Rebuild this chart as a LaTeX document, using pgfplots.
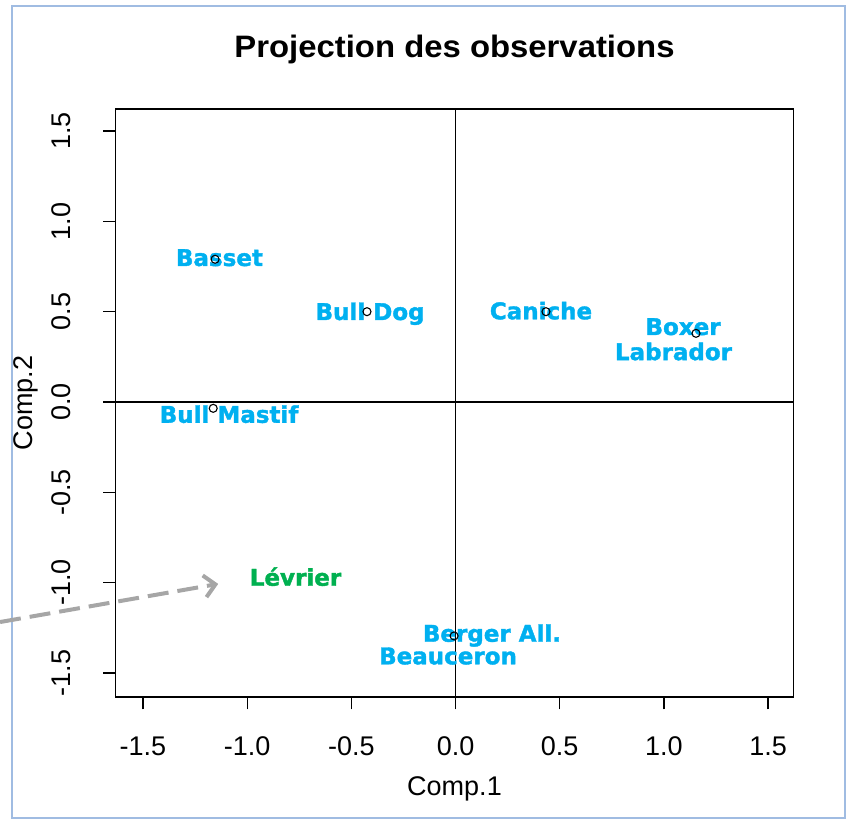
\documentclass[border=0pt]{standalone}
\usepackage{fontspec}
\setmainfont{Liberation Sans}
\newfontfamily\heavy{DejaVu Sans}[BoldFeatures={FakeBold=1.6}]
\usepackage{pgfplots}
\pgfplotsset{compat=1.18}
\usepackage{pgfplotstable}
\usetikzlibrary{arrows.meta}
\definecolor{lblblue}{RGB}{0,176,240}
\definecolor{lblgreen}{RGB}{0,176,80}
\definecolor{arrowgray}{RGB}{166,166,166}
\definecolor{frameblue}{RGB}{160,188,226}

\pgfplotstableread[col sep=comma]{
x,y,label
-1.133,0.753,Basset
-0.410,0.454,Bull Dog
-1.087,-0.115,Bull Mastif
0.410,0.458,Caniche
1.092,0.371,Boxer
1.046,0.232,Labrador
0.175,-1.327,Berger All.
-0.036,-1.452,Beauceron
}\labelsblue

\pgfplotstableread[col sep=comma]{
x,y,label
-0.768,-1.017,Lévrier
}\labelsgreen

\pgfplotstableread{
x y
-1.154 0.790
-0.425 0.500
-1.163 -0.035
0.434 0.500
1.154 0.380
-0.007 -1.295
}\points

\begin{document}
\begin{tikzpicture}
\useasboundingbox (0,0) rectangle (423pt,414.5pt);
\draw[frameblue, line width=0.9pt] (6pt,5.5pt) rectangle (422.5pt,411.5pt);
\begin{axis}[
  at={(57.85pt,66pt)}, anchor=south west,
  scale only axis, width=338.8pt, height=294pt,
  xmin=-1.631, xmax=1.621, ymin=-1.633, ymax=1.622,
  axis line style={line width=0.6pt},
  clip=false,
  xtick={-1.5,-1,-0.5,0,0.5,1,1.5},
  xticklabels={-1.5,-1.0,-0.5,0.0,0.5,1.0,1.5},
  ytick={-1.5,-1,-0.5,0,0.5,1,1.5},
  yticklabels={-1.5,-1.0,-0.5,0.0,0.5,1.0,1.5},
  tick align=outside, major tick length=6.25pt,
  xtick pos=left, ytick pos=left,
  tick style={black, line width=0.6pt},
  ticklabel style={font=\fontsize{13.5}{15}\selectfont, inner sep=0pt},
  xticklabel style={anchor=north}, xticklabel shift=13.5pt,
  yticklabel style={rotate=90, anchor=south}, yticklabel shift=16.2pt,
  title={Projection des observations},
  title style={at={(axis description cs:0.5,1.0675)}, anchor=base, inner sep=0pt,
    font=\bfseries\fontsize{15.5}{18}\selectfont, xscale=1.06},
  xlabel={Comp.1},
  xlabel style={at={(axis description cs:0.5,-0.1667)}, anchor=base, inner sep=0pt,
    font=\fontsize{13.5}{15}\selectfont},
  ylabel={Comp.2},
  ylabel style={at={(axis description cs:-0.1228,0.5)}, anchor=base, inner sep=0pt,
    font=\fontsize{13.5}{15}\selectfont},
]
\addplot[black, line width=0.6pt] coordinates {(0,-1.633) (0,1.622)};
\addplot[black, line width=0.6pt] coordinates {(-1.631,0) (1.621,0)};
\addplot[arrowgray, line width=2pt, dash pattern=on 10.5pt off 4.5pt,
  -{Straight Barb[length=5.5pt,width=11pt]}]
  coordinates {(-2.186,-1.218) (-1.139,-1.007)};
\addplot[draw=none, mark=none, nodes near coords, point meta=explicit symbolic,
  nodes near coords style={anchor=base, inner sep=0pt,
    font=\heavy\bfseries\fontsize{11.5}{13}\selectfont, text=lblblue}]
  table[x=x, y=y, meta=label] {\labelsblue};
\addplot[draw=none, mark=none, nodes near coords, point meta=explicit symbolic,
  nodes near coords style={anchor=base, inner sep=0pt,
    font=\heavy\bfseries\fontsize{11.5}{13}\selectfont, text=lblgreen}]
  table[x=x, y=y, meta=label] {\labelsgreen};
\addplot[only marks, mark=o, mark size=2pt, black, mark options={line width=0.55pt}]
  table[x=x, y=y] {\points};
\end{axis}
\end{tikzpicture}
\end{document}
